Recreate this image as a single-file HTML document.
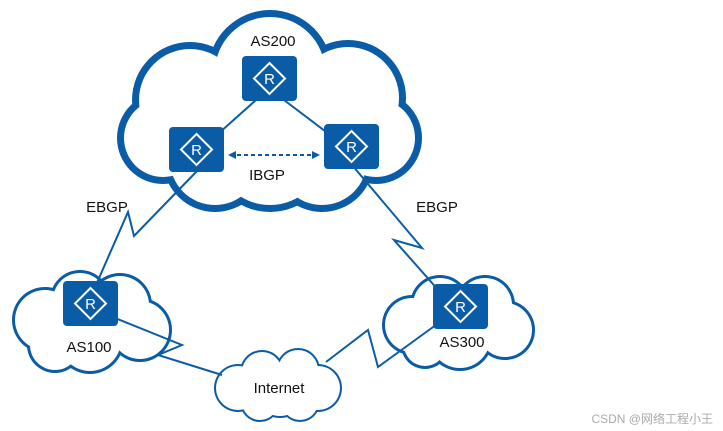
<!DOCTYPE html><html><head><style>body{margin:0;background:#fff}svg{display:block}text{font-family:"Liberation Sans","Noto Sans CJK SC",sans-serif}</style></head><body>
<svg width="723" height="431" viewBox="0 0 723 431" xmlns="http://www.w3.org/2000/svg">
<defs>
<g id="rt"><rect x="0" y="0" width="55" height="45" rx="4" fill="#0b5ca6"/><path d="M27.5 7 L43 22.5 L27.5 38 L12 22.5Z" fill="none" stroke="#fff" stroke-width="2"/><text x="27.5" y="28" font-size="15" fill="#fff" text-anchor="middle">R</text></g>
</defs>
<!-- big cloud -->
<g fill="#0b5ca6">
<circle cx="270" cy="72" r="62"/><circle cx="190" cy="100" r="58"/><circle cx="348" cy="98" r="58"/><circle cx="163" cy="138" r="46"/><circle cx="376" cy="138" r="46"/><circle cx="215" cy="160" r="52"/><circle cx="322" cy="160" r="52"/><circle cx="270" cy="150" r="62"/>
</g>
<g fill="#fff">
<circle cx="270" cy="72" r="55"/><circle cx="190" cy="100" r="51"/><circle cx="348" cy="98" r="51"/><circle cx="163" cy="138" r="39"/><circle cx="376" cy="138" r="39"/><circle cx="215" cy="160" r="45"/><circle cx="322" cy="160" r="45"/><circle cx="270" cy="150" r="55"/>
</g>
<!-- AS100 cloud -->
<g fill="#0b5ca6">
<circle cx="80" cy="300" r="30"/><circle cx="120" cy="305" r="32"/><circle cx="45" cy="320" r="33"/><circle cx="140" cy="330" r="32"/><circle cx="90" cy="340" r="34"/><circle cx="55" cy="345" r="28"/></g>
<g fill="#fff">
<circle cx="80" cy="300" r="27"/><circle cx="120" cy="305" r="29"/><circle cx="45" cy="320" r="30"/><circle cx="140" cy="330" r="29"/><circle cx="90" cy="340" r="31"/><circle cx="55" cy="345" r="25"/></g>
<!-- AS300 cloud -->
<g fill="#0b5ca6">
<circle cx="440" cy="305" r="30"/><circle cx="485" cy="305" r="30"/><circle cx="412" cy="325" r="30"/><circle cx="505" cy="330" r="30"/><circle cx="460" cy="338" r="33"/><circle cx="425" cy="345" r="24"/></g>
<g fill="#fff">
<circle cx="440" cy="305" r="27"/><circle cx="485" cy="305" r="27"/><circle cx="412" cy="325" r="27"/><circle cx="505" cy="330" r="27"/><circle cx="460" cy="338" r="30"/><circle cx="425" cy="345" r="21"/></g>
<!-- Internet cloud -->
<g fill="#0b5ca6">
<circle cx="262" cy="372" r="22"/><circle cx="298" cy="370" r="22"/><circle cx="238" cy="388" r="24"/><circle cx="318" cy="388" r="24"/><circle cx="260" cy="402" r="20"/><circle cx="300" cy="402" r="20"/><circle cx="280" cy="390" r="28"/></g>
<g fill="#fff">
<circle cx="262" cy="372" r="20"/><circle cx="298" cy="370" r="20"/><circle cx="238" cy="388" r="22"/><circle cx="318" cy="388" r="22"/><circle cx="260" cy="402" r="18"/><circle cx="300" cy="402" r="18"/><circle cx="280" cy="390" r="26"/></g>
<!-- lines -->
<g stroke="#0b5ca6" stroke-width="2" fill="none">
<path d="M256 100 L200 150"/><path d="M284 100 L350 150"/>
<path d="M230 155 L318 155" stroke-dasharray="4 3"/>
<path d="M198 170 L134 236 L128 212 L96 285"/>
<path d="M352 165 L422 248 L394 240 L440 292"/>
<path d="M115 318 L182 345 L158 355 L222 375"/>
<path d="M440 322 L378 367 L368 330 L326 362"/>
</g>
<path d="M228 155 L236 151 L236 159Z M320 155 L312 151 L312 159Z" fill="#0b5ca6"/>
<use href="#rt" x="242" y="56"/><use href="#rt" x="169" y="127"/><use href="#rt" x="324" y="124"/>
<use href="#rt" x="63" y="281"/><use href="#rt" x="433" y="284"/>
<g font-size="15" fill="#111">
<text x="273" y="46" text-anchor="middle">AS200</text>
<text x="267" y="180" text-anchor="middle">IBGP</text>
<text x="107" y="212" text-anchor="middle">EBGP</text>
<text x="437" y="212" text-anchor="middle">EBGP</text>
<text x="89" y="352" text-anchor="middle">AS100</text>
<text x="462" y="347" text-anchor="middle">AS300</text>
<text x="279" y="393" text-anchor="middle">Internet</text>
</g>
<text x="713" y="423" font-size="12" fill="#aaa" text-anchor="end">CSDN @网络工程小王</text>
</svg>
</body></html>
